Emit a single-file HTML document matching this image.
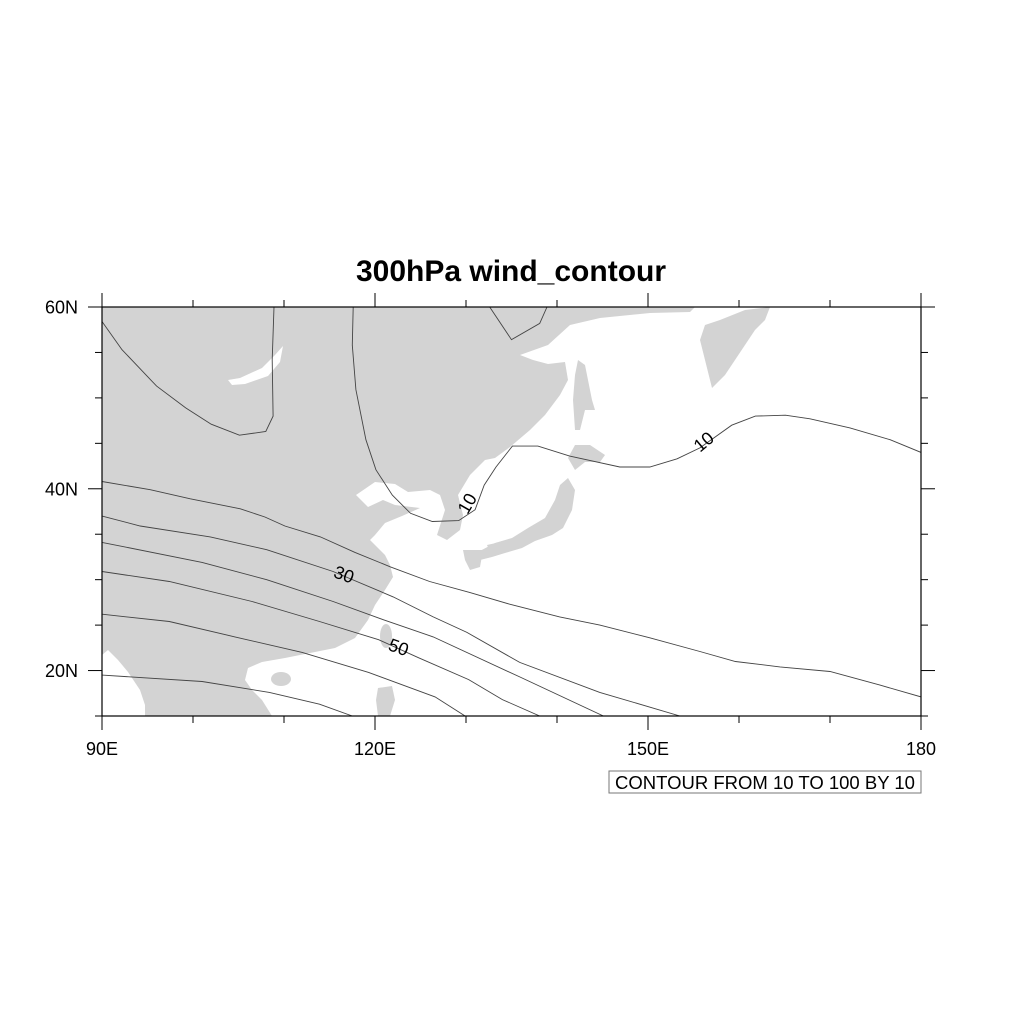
<!DOCTYPE html>
<html><head><meta charset="utf-8">
<style>
html,body{margin:0;padding:0;background:#fff;}
svg{display:block;font-family:"Liberation Sans",Arial,sans-serif;}
</style></head>
<body>
<svg id="chart" width="1024" height="1024" viewBox="0 0 1024 1024" xmlns="http://www.w3.org/2000/svg">
  <text x="511" y="281" text-anchor="middle" font-size="30" font-weight="bold">300hPa wind_contour</text>
  <defs><clipPath id="mapclip"><rect x="102" y="307" width="819" height="409"/></clipPath></defs>
  <g id="land" clip-path="url(#mapclip)" fill="#d3d3d3">
    <polygon points="102,307 695,307 690,312 650,313 600,318 570,325 548,345 520,355 533,360 548,364 565,362 568,380 560,395 545,415 530,430 510,447 495,458 485,460 470,475 458,495 463,515 460,530 447,540 437,535 445,510 440,495 430,490 408,492 395,484 375,482 356,495 368,507 383,500 395,505 420,508 402,516 385,523 375,535 370,540 385,555 390,565 393,577 385,590 375,605 368,620 355,638 335,648 300,655 285,658 262,662 248,668 245,680 252,690 262,700 272,716 145,716 145,705 140,690 128,672 118,660 108,650 102,655"/>
    <polygon fill="#fff" points="228,380 240,378 262,368 275,355 283,346 280,362 268,376 245,384 232,385"/>
    <ellipse cx="281" cy="679" rx="10" ry="7"/>
    <ellipse cx="386" cy="636" rx="6" ry="12"/>
    <polygon points="378,688 392,686 395,700 390,716 378,716 376,700"/>
    <polygon points="568,478 575,490 572,510 563,528 552,535 535,541 522,548 505,553 492,557 480,560 478,552 495,543 512,538 528,528 545,518 555,500 560,485"/>
    <polygon points="463,550 483,550 480,567 470,570 465,560"/>
    <polygon points="487,545 505,541 503,550 490,552"/>
    <polygon points="575,445 590,445 605,455 600,462 585,462 575,470 568,458"/>
    <polygon points="578,360 585,365 592,400 595,410 585,410 580,430 575,430 573,400 575,375"/>
    <polygon points="720,320 745,310 770,307 765,320 755,330 745,345 735,360 725,375 712,388 705,360 700,340 705,325"/>
  </g>
  <g id="contours" clip-path="url(#mapclip)"></g>
  <g id="labels"></g>
  <rect x="102" y="307" width="819" height="409" fill="none" stroke="#000" stroke-width="1.2"/>
  <g id="ticks"></g>
  <g>
    <rect x="609" y="771" width="312" height="22" fill="#fff" stroke="#777" stroke-width="1"/>
    <text x="765" y="789" text-anchor="middle" font-size="18.5">CONTOUR FROM 10 TO 100 BY 10</text>
  </g>
</svg>
<script>
// contour data in lon/lat degrees
const c10a = [[117.6,60],[117.5,55.8],[117.9,50.9],[119.0,45.4],[120.1,42.1],[121.9,39.3],[123.9,37.3],[126.3,36.4],[129.2,36.5],[131.0,37.7],[132.0,40.4],[133.3,42.4],[135.1,44.7],[137.9,44.7],[141.4,43.6],[146.9,42.4],[150.2,42.4],[153.2,43.3],[155.7,44.5],[159.2,47.0],[161.8,48.0],[165.1,48.1],[167.8,47.7],[172.2,46.7],[176.6,45.4],[180,44.0]];
const c10b = [[132.6,60],[135.0,56.4],[138.1,58.2],[138.9,60]];
const c20nw = [[90,58.4],[92.2,55.3],[96.0,51.3],[99.2,48.9],[102.0,47.1],[105.1,45.9],[108.0,46.3],[108.8,48.0],[108.7,54.2],[108.9,60]];
const c20 = [[90,40.8],[95.3,39.9],[99.7,38.9],[105.2,37.8],[107.9,36.9],[110.1,35.9],[114.0,34.7],[117.8,33.0],[121.7,31.4],[126.0,29.8],[130.4,28.6],[134.8,27.3],[140.3,25.9],[144.7,25.0],[150.2,23.6],[155.7,22.1],[159.6,21.0],[164.5,20.4],[170.0,19.9],[175.5,18.4],[180,17.1]];
const c30 = [[90,37.0],[94.2,35.9],[101.9,34.7],[108.1,33.3],[115.4,30.9],[122.0,28.1],[126.4,25.9],[130.1,24.2],[135.9,20.9],[144.7,17.6],[153.5,15.0]];
const c40 = [[90,34.1],[101.0,31.9],[108.1,30.0],[115.4,27.6],[120.9,25.6],[126.4,23.7],[135.9,19.3],[145.1,15.0]];
const c50 = [[90,30.9],[97.4,29.8],[106.5,27.6],[113.9,25.4],[120.4,23.4],[124.8,21.4],[130.3,19.0],[134.0,16.8],[138.1,15.0]];
const c60 = [[90,26.2],[97.4,25.4],[104.6,23.7],[112.0,22.0],[119.3,19.8],[126.6,17.1],[129.9,15.0]];
const c70 = [[90,19.5],[101.0,18.8],[108.4,17.6],[113.9,16.3],[117.5,15.0]];
const contourLines = [c10a,c10b,c20nw,c20,c30,c40,c50,c60,c70];
const contourNames = ['contour-10','contour-10-north','contour-20-northwest','contour-20','contour-30','contour-40','contour-50','contour-60','contour-70'];
const labelTexts = ['10','10','30','50'];
const labelPos = [[130.1,38.4],[156.1,45.2],[116.6,30.6],[122.6,22.6]];
const labelAngles = [-60,-40,20,20];
const lonTicks = [90,120,150,180];
const lonTickLabels = ['90E','120E','150E','180'];
const latTicks = [20,40,60];
const latTickLabels = ['20N','40N','60N'];

const X0=102,X1=921,Y0=307,Y1=716;
const LON0=90,LON1=180,LAT0=15,LAT1=60;
const sx = lon => X0+(lon-LON0)/(LON1-LON0)*(X1-X0);
const sy = lat => Y1-(lat-LAT0)/(LAT1-LAT0)*(Y1-Y0);
const NS='http://www.w3.org/2000/svg';
const mk=(t,a,p)=>{const e=document.createElementNS(NS,t);for(const k in a)e.setAttribute(k,a[k]);p.appendChild(e);return e;};

const cg=document.getElementById('contours');
contourLines.forEach((line,i)=>{
  const p=mk('polyline',{points:line.map(q=>sx(q[0]).toFixed(1)+','+sy(q[1]).toFixed(1)).join(' '),fill:'none',stroke:'#444','stroke-width':0.9},cg);
  
  
});
const lg=document.getElementById('labels');
labelTexts.forEach((t,i)=>{
  const x=sx(labelPos[i][0]),y=sy(labelPos[i][1]);
  const g=mk('g',{transform:`translate(${x.toFixed(1)},${y.toFixed(1)}) rotate(${labelAngles[i]})`},lg);
  
  
  const tx=mk('text',{x:0,y:6.5,'text-anchor':'middle','font-size':18},g);
  tx.textContent=t;
});
const tg=document.getElementById('ticks');
for(let lon=LON0;lon<=LON1;lon+=10){
  const major=lonTicks.includes(lon);
  const x=sx(lon),L=major?14:7;
  const a=mk('line',{x1:x,x2:x,y1:Y1,y2:Y1+L,stroke:'#000','stroke-width':1},tg);
  
  
  const b=mk('line',{x1:x,x2:x,y1:Y0,y2:Y0-L,stroke:'#000','stroke-width':1},tg);
  
  
}
lonTicks.forEach((lon,i)=>{
  const t=mk('text',{x:sx(lon),y:Y1+39,'text-anchor':'middle','font-size':18},tg);
  
  
  t.textContent=lonTickLabels[i];
});
for(let lat=LAT0;lat<=LAT1;lat+=5){
  const major=latTicks.includes(lat);
  const y=sy(lat),L=major?14:7;
  const a=mk('line',{x1:X0-L,x2:X0,y1:y,y2:y,stroke:'#000','stroke-width':1},tg);
  
  
  const b=mk('line',{x1:X1,x2:X1+L,y1:y,y2:y,stroke:'#000','stroke-width':1},tg);
  
  
}
latTicks.forEach((lat,i)=>{
  const t=mk('text',{x:X0-24,y:sy(lat)+6.5,'text-anchor':'end','font-size':18},tg);
  
  
  t.textContent=latTickLabels[i];
});
</script>
</body></html>
